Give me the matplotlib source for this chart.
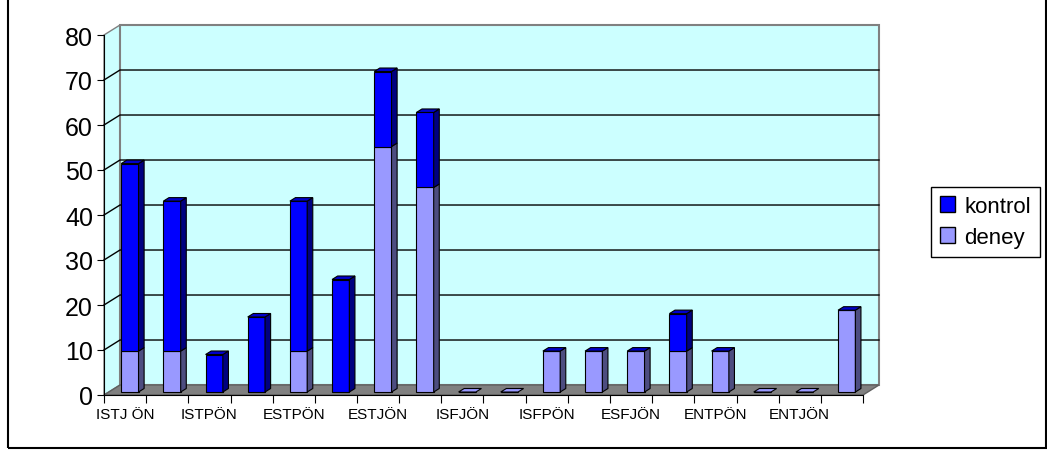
import numpy as np
import matplotlib
matplotlib.use('Agg')
import matplotlib.pyplot as plt
from matplotlib.patches import Polygon, Rectangle, Patch

# pre/post (ÖN/SON) groups, only every other label is shown on the axis
categories = ['ISTJ ÖN', 'ISTJ SON', 'ISTPÖN', 'ISTPSON', 'ESTPÖN', 'ESTPSON',
              'ESTJÖN', 'ESTJSON', 'ISFJÖN', 'ISFJSON', 'ISFPÖN', 'ISFPSON',
              'ESFJÖN', 'ESFJSON', 'ENTPÖN', 'ENTPSON', 'ENTJÖN', 'ENTJSON']
deney = [9.09, 9.09, 0, 0, 9.09, 0, 54.55, 45.45, 0, 0,
         9.09, 9.09, 9.09, 9.09, 9.09, 0, 0, 18.18]
kontrol = [41.67, 33.33, 8.33, 16.67, 33.33, 25.0, 16.67, 16.67, 0, 0,
           0, 0, 0, 8.33, 0, 0, 0, 0]
yticks = [0, 10, 20, 30, 40, 50, 60, 70, 80]

plt.rcParams['font.family'] = ['Liberation Sans', 'DejaVu Sans']

W_PX, H_PX = 1047, 452
fig = plt.figure(figsize=(W_PX / 100, H_PX / 100), dpi=100)
ax = fig.add_axes([104 / W_PX, 1 - 396 / H_PX, 759 / W_PX, 360 / H_PX])
n = len(categories)
x0, x1 = -0.5, n - 0.5
ymax = yticks[-1]
ax.set_xlim(x0, x1)
ax.set_ylim(0, ymax)
ax.patch.set_visible(False)

# fake excel 3d: depth of the floor in data units
DX, DY = 0.379, 2.22
F0, F1 = 0.3, 0.65   # bar front / back as fraction of the depth
W = 0.41
wall = '#CCFFFF'
edge = '#808080'

# walls + floor
ax.add_patch(Polygon([(x0, 0), (x0 + DX, DY), (x0 + DX, ymax + DY), (x0, ymax)],
                     closed=True, fc=wall, ec=edge, lw=1, clip_on=False, zorder=0))
ax.add_patch(Rectangle((x0 + DX, DY), x1 - x0, ymax, fc=wall, ec=edge, lw=1.5,
                       clip_on=False, zorder=0))
ax.add_patch(Polygon([(x0, 0), (x1, 0), (x1 + DX, DY), (x0 + DX, DY)],
                     closed=True, fc='#808080', ec='#606060', lw=1, clip_on=False, zorder=1))
for v in yticks[1:-1]:
    ax.plot([x0, x0 + DX, x1 + DX], [v, v + DY, v + DY], color='black', lw=1,
            clip_on=False, zorder=1)

# bars
deney = np.array(deney)
kontrol = np.array(kontrol)
xs = np.arange(n) + F0 * DX
base = F0 * DY
ddx, ddy = (F1 - F0) * DX, (F1 - F0) * DY

ax.bar(xs, deney, width=W, bottom=base, color='#9999FF', edgecolor='black', lw=0.8,
       zorder=3, clip_on=False)
ax.bar(xs, kontrol, width=W, bottom=base + deney, color='#0000FF', edgecolor='black',
       lw=0.8, zorder=3, clip_on=False)


def side_face(xr, b, t, color):
    ax.add_patch(Polygon([(xr, b), (xr + ddx, b + ddy), (xr + ddx, t + ddy), (xr, t)],
                         closed=True, fc=color, ec='black', lw=0.8, clip_on=False, zorder=3))


for i in range(n):
    xl = xs[i] - W / 2
    xr = xs[i] + W / 2
    d_top = base + deney[i]
    k_top = d_top + kontrol[i]
    if deney[i] > 0:
        side_face(xr, base, d_top, '#4D4D80')
    if kontrol[i] > 0:
        side_face(xr, d_top, k_top, '#000080')
    # top face always belongs to kontrol (stacked on top, even when 0)
    top_c = '#0000CC' if k_top > base else '#9999FF'
    ax.add_patch(Polygon([(xl, k_top), (xr, k_top), (xr + ddx, k_top + ddy), (xl + ddx, k_top + ddy)],
                         closed=True, fc=top_c, ec='black', lw=0.8, clip_on=False, zorder=4))

# axes
for s in ['top', 'right']:
    ax.spines[s].set_visible(False)
ax.spines['left'].set_color('black')
ax.spines['bottom'].set_color('black')
ax.spines['left'].set_zorder(5)
ax.spines['bottom'].set_zorder(5)

ax.set_yticks(yticks)
ax.tick_params(axis='y', length=5, labelsize=18, pad=3)
ax.set_xticks(np.arange(x0, x1 + 0.01, 1))
ax.set_xticklabels([])
ax.set_xticks(np.arange(n), minor=True)
ax.set_xticklabels([c if i % 2 == 0 else '' for i, c in enumerate(categories)], minor=True)
ax.tick_params(axis='x', which='major', length=6)
ax.tick_params(axis='x', which='minor', length=0, labelsize=11, pad=9)

handles = [Patch(fc='#0000FF', ec='black', label='kontrol'),
           Patch(fc='#9999FF', ec='black', label='deney')]
leg = fig.legend(handles=handles, loc='upper left', bbox_to_anchor=(931 / W_PX, 1 - 188 / H_PX),
                 fontsize=16, frameon=True, fancybox=False, edgecolor='black', framealpha=1,
                 borderaxespad=0, handlelength=0.7, handleheight=0.7, handletextpad=0.4,
                 labelspacing=0.45, borderpad=0.4)
leg.get_frame().set_linewidth(1)

# chart area border
fig.add_artist(Rectangle((8 / W_PX, 1 - 449 / H_PX), 1038 / W_PX, 1.0, transform=fig.transFigure,
                         fill=False, ec='black', lw=1.5))

fig.savefig('out.png', dpi=100)
